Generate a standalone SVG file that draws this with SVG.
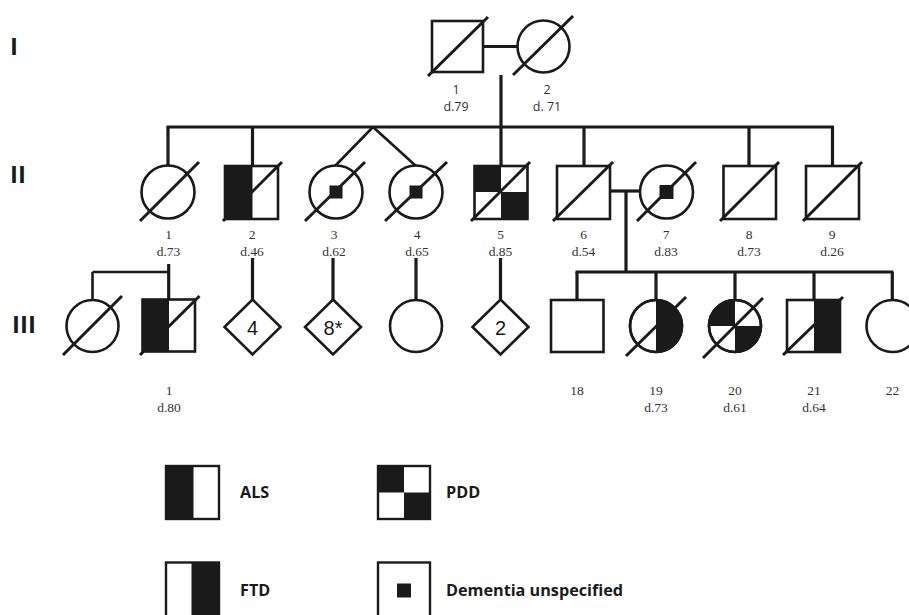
<svg xmlns="http://www.w3.org/2000/svg" width="909" height="615" viewBox="0 0 909 615">
<style>
.s{fill:#fff;stroke:#1a1a1a;stroke-width:2.6}
.f{fill:#1a1a1a;stroke:none}
.ln{stroke:#1a1a1a;stroke-width:3.2;fill:none}
.tw{stroke:#1a1a1a;stroke-width:2.6;fill:none}
.sl{stroke:#1a1a1a;stroke-width:3;fill:none}
.gen{font-family:"Open Sans","Liberation Sans",sans-serif;font-weight:bold;font-size:24px;fill:#1a1a1a}
.lab1{font-family:"Open Sans","Liberation Sans",sans-serif;font-size:12.5px;fill:#333;text-anchor:middle}
.lab{font-family:"Liberation Serif","Times New Roman",serif;font-size:13.5px;fill:#333;text-anchor:middle}
.dia{font-family:"Liberation Sans",Arial,sans-serif;font-size:20px;fill:#1a1a1a;text-anchor:middle}
.leg{font-family:"Open Sans","Liberation Sans",sans-serif;font-weight:bold;font-size:16.2px;fill:#1a1a1a}
.ls{fill:#fff;stroke:#1a1a1a;stroke-width:2.4}
</style>
<rect width="909" height="615" fill="#fff"/>
<g id="gen-labels">
<text class="gen" x="10" y="55">I</text>
<text class="gen" x="10" y="183">II</text>
<text class="gen" x="12" y="333">III</text>
</g>
<g id="connectors">
<line class="ln" x1="483" y1="46.5" x2="517.5" y2="46.5"/>
<line class="ln" x1="501" y1="75" x2="501" y2="127"/>
<line class="ln" x1="166.5" y1="127" x2="834" y2="127"/>
<line class="ln" x1="168" y1="127" x2="168" y2="165.5"/>
<line class="ln" x1="252.5" y1="127" x2="252.5" y2="166"/>
<line class="ln" x1="501" y1="127" x2="501" y2="166"/>
<line class="ln" x1="584" y1="127" x2="584" y2="166"/>
<line class="ln" x1="749" y1="127" x2="749" y2="166"/>
<line class="ln" x1="832.5" y1="127" x2="832.5" y2="166"/>
<line class="tw" x1="373" y1="127" x2="335" y2="166"/>
<line class="tw" x1="373" y1="127" x2="416" y2="166"/>
<line class="ln" x1="610" y1="191" x2="640" y2="191"/>
<line class="ln" x1="626" y1="191" x2="626" y2="272"/>
<line class="ln" x1="575.5" y1="272" x2="893.5" y2="272"/>
<line class="ln" x1="577" y1="272" x2="577" y2="300"/>
<line class="ln" x1="656" y1="272" x2="656" y2="300"/>
<line class="ln" x1="735" y1="272" x2="735" y2="300"/>
<line class="ln" x1="814" y1="272" x2="814" y2="300"/>
<line class="ln" x1="892.3" y1="272" x2="892.3" y2="300"/>
<line class="tw" x1="92.5" y1="272" x2="169" y2="272"/>
<line class="tw" x1="92.5" y1="272" x2="92.5" y2="300"/>
<line class="ln" x1="168.7" y1="264" x2="168.7" y2="300"/>
<line class="ln" x1="252.5" y1="258" x2="252.5" y2="299.5"/>
<line class="ln" x1="333" y1="258" x2="333" y2="299.5"/>
<line class="ln" x1="416" y1="258" x2="416" y2="300"/>
<line class="ln" x1="500.5" y1="258" x2="500.5" y2="299.5"/>
</g>
<g id="I-1">
<rect class="s" x="432" y="21" width="51" height="51"/>
<line class="sl" x1="428" y1="76" x2="488" y2="17"/>
<text class="lab1" x="456" y="94">1</text>
<text class="lab1" x="456" y="110.5">d.79</text>
</g>
<g id="I-2">
<circle class="s" cx="543.5" cy="46.5" r="26"/>
<line class="sl" x1="513" y1="75" x2="573" y2="16"/>
<text class="lab1" x="547" y="94">2</text>
<text class="lab1" x="547" y="110.5">d. 71</text>
</g>
<g id="II-1">
<circle class="s" cx="168" cy="192" r="26.5"/>
<line class="sl" x1="140" y1="221" x2="199" y2="162"/>
<text class="lab" x="168.5" y="239">1</text>
<text class="lab" x="168.5" y="255.5">d.73</text>
</g>
<g id="II-2">
<rect class="s" x="225" y="166" width="53" height="53"/>
<rect class="f" x="225" y="166" width="27.5" height="53"/>
<line class="sl" x1="223" y1="221" x2="282" y2="162"/>
<text class="lab" x="252" y="239">2</text>
<text class="lab" x="252" y="255.5">d.46</text>
</g>
<g id="II-3">
<circle class="s" cx="336" cy="192" r="26.5"/>
<rect class="f" x="329.5" y="185.5" width="13" height="13"/>
<line class="sl" x1="305" y1="221" x2="365" y2="162"/>
<text class="lab" x="334" y="239">3</text>
<text class="lab" x="334" y="255.5">d.62</text>
</g>
<g id="II-4">
<circle class="s" cx="416" cy="192" r="26.5"/>
<rect class="f" x="409.5" y="185.5" width="13" height="13"/>
<line class="sl" x1="385" y1="221" x2="447" y2="162"/>
<text class="lab" x="417" y="239">4</text>
<text class="lab" x="417" y="255.5">d.65</text>
</g>
<g id="II-5">
<rect class="s" x="474.5" y="166" width="53" height="53"/>
<rect class="f" x="474.5" y="166" width="26.5" height="26"/>
<rect class="f" x="501" y="192" width="26.5" height="27"/>
<line class="sl" x1="471" y1="221" x2="530" y2="162"/>
<text class="lab" x="500.5" y="239">5</text>
<text class="lab" x="500.5" y="255.5">d.85</text>
</g>
<g id="II-6">
<rect class="s" x="557" y="166" width="53" height="53"/>
<line class="sl" x1="553" y1="221" x2="613" y2="162"/>
<text class="lab" x="583.5" y="239">6</text>
<text class="lab" x="583.5" y="255.5">d.54</text>
</g>
<g id="II-7">
<circle class="s" cx="666.5" cy="192" r="26.5"/>
<rect class="f" x="659.5" y="185" width="14" height="14"/>
<line class="sl" x1="637" y1="221" x2="696" y2="162"/>
<text class="lab" x="666" y="239">7</text>
<text class="lab" x="666" y="255.5">d.83</text>
</g>
<g id="II-8">
<rect class="s" x="723.5" y="166" width="52.5" height="53"/>
<line class="sl" x1="720" y1="221" x2="779" y2="162"/>
<text class="lab" x="749" y="239">8</text>
<text class="lab" x="749" y="255.5">d.73</text>
</g>
<g id="II-9">
<rect class="s" x="806" y="166" width="53" height="53"/>
<line class="sl" x1="803" y1="221" x2="862" y2="162"/>
<text class="lab" x="832" y="239">9</text>
<text class="lab" x="832" y="255.5">d.26</text>
</g>
<g id="III-spouse">
<circle class="s" cx="92.5" cy="326" r="26"/>
<line class="sl" x1="63" y1="355" x2="122" y2="296"/>
</g>
<g id="III-1">
<rect class="s" x="142.5" y="299.5" width="52.5" height="52"/>
<rect class="f" x="142.5" y="299.5" width="26.5" height="52"/>
<line class="sl" x1="140" y1="355" x2="199.5" y2="296"/>
<text class="lab" x="169" y="395">1</text>
<text class="lab" x="169" y="411.5">d.80</text>
</g>
<g id="III-d4">
<polygon class="s" points="252.5,299.5 280.5,327 252.5,354.5 224.5,327"/>
<text class="dia" x="252.5" y="335">4</text>
</g>
<g id="III-d8">
<polygon class="s" points="333,299.5 361,327 333,354.5 305,327"/>
<text class="dia" x="333" y="335">8*</text>
</g>
<g id="III-c">
<circle class="s" cx="416" cy="326" r="26"/>
</g>
<g id="III-d2">
<polygon class="s" points="500.5,299.5 528.5,327 500.5,354.5 472.5,327"/>
<text class="dia" x="500.5" y="335">2</text>
</g>
<g id="III-18">
<rect class="s" x="551" y="300" width="52.5" height="52"/>
<text class="lab" x="577" y="395">18</text>
</g>
<g id="III-19">
<circle class="s" cx="656" cy="326" r="26"/>
<path class="f" d="M656,300 A26,26 0 0 1 656,352 Z"/>
<circle cx="656" cy="326" r="26" fill="none" stroke="#1a1a1a" stroke-width="2.6"/>
<line class="sl" x1="626" y1="356" x2="686" y2="297"/>
<text class="lab" x="656" y="395">19</text>
<text class="lab" x="656" y="411.5">d.73</text>
</g>
<g id="III-20">
<circle class="s" cx="735" cy="326" r="26"/>
<path class="f" d="M735,326 L709,326 A26,26 0 0 1 735,300 Z"/>
<path class="f" d="M735,326 L761,326 A26,26 0 0 1 735,352 Z"/>
<circle cx="735" cy="326" r="26" fill="none" stroke="#1a1a1a" stroke-width="2.6"/>
<line class="sl" x1="703" y1="358" x2="763" y2="298"/>
<text class="lab" x="735" y="395">20</text>
<text class="lab" x="735" y="411.5">d.61</text>
</g>
<g id="III-21">
<rect class="s" x="787" y="300" width="53" height="52"/>
<rect class="f" x="814" y="300" width="26" height="52"/>
<line class="sl" x1="783" y1="355" x2="843" y2="297"/>
<text class="lab" x="814" y="395">21</text>
<text class="lab" x="814" y="411.5">d.64</text>
</g>
<g id="III-22">
<circle class="s" cx="892.5" cy="326" r="26"/>
<text class="lab" x="892.5" y="395">22</text>
</g>
<g id="legend-ALS">
<rect class="ls" x="166" y="466" width="53" height="53"/>
<rect class="f" x="166" y="466" width="27.5" height="53"/>
<text class="leg" x="240" y="498">ALS</text>
</g>
<g id="legend-PDD">
<rect class="ls" x="378" y="466" width="52" height="53"/>
<rect class="f" x="378" y="466" width="26" height="26.5"/>
<rect class="f" x="404" y="492.5" width="26" height="26.5"/>
<text class="leg" x="446" y="498">PDD</text>
</g>
<g id="legend-FTD">
<rect class="ls" x="166" y="562.5" width="53" height="55"/>
<rect class="f" x="191.5" y="562.5" width="27.5" height="55"/>
<text class="leg" x="240" y="596">FTD</text>
</g>
<g id="legend-Dementia">
<rect class="ls" x="378" y="562.5" width="52" height="55"/>
<rect class="f" x="397" y="583.5" width="14" height="14"/>
<text class="leg" x="446" y="596">Dementia unspecified</text>
</g>
</svg>
